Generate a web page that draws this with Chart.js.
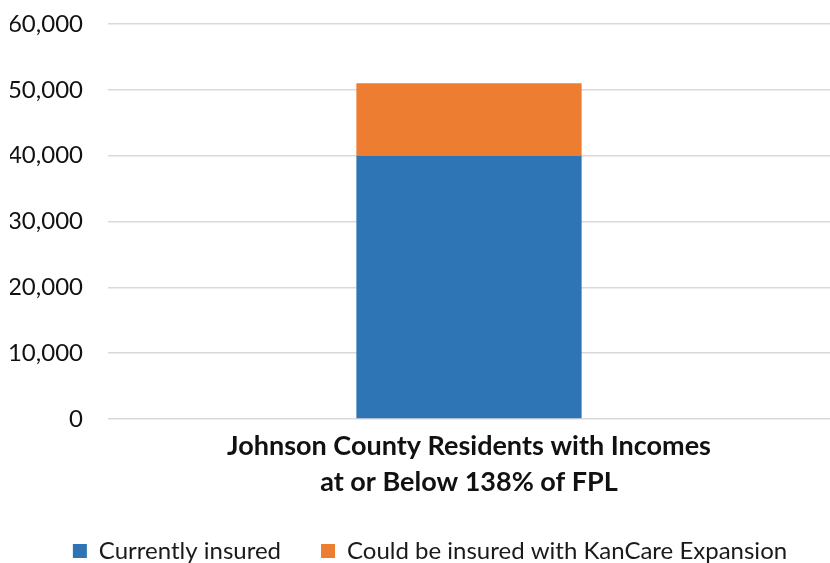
<!DOCTYPE html>
<html>
<head>
<meta charset="utf-8">
<script src="https://cdn.jsdelivr.net/npm/chart.js@4"></script>
<style>
  html, body { margin: 0; padding: 0; background: #ffffff; }
  #wrap { width: 830px; height: 563px; }
</style>
</head>
<body>
<div id="wrap"><canvas id="c" width="830" height="563"></canvas></div>
<script>
// Category label (shown in two lines under the bar)
const categories = [["Johnson County Residents with Incomes", "at or Below 138% of FPL"]];
// Stacked series
const currentlyInsured = [40000];
const couldBeInsured = [11000];
const seriesNames = ["Currently insured", "Could be insured with KanCare Expansion"];
// Y axis range
const yMin = 0, yMax = 60000, yStep = 10000;

const FONT = "Lato, 'Liberation Sans', sans-serif";

// Nudge the legend row a little to the right of the canvas centre
const legendShift = {
  id: 'legendShift',
  afterLayout(chart) {
    const lg = chart.legend;
    if (lg) { lg.left += 10; lg.right += 10; }
  }
};

new Chart(document.getElementById('c'), {
  type: 'bar',
  data: {
    labels: categories,
    datasets: [
      { label: seriesNames[0], data: currentlyInsured, backgroundColor: '#2E75B6' },
      { label: seriesNames[1], data: couldBeInsured, backgroundColor: '#ED7D31' }
    ]
  },
  plugins: [legendShift],
  options: {
    responsive: false,
    animation: false,
    devicePixelRatio: 1,
    layout: { padding: { top: 0, right: 0, bottom: -10, left: 10 } },
    datasets: { bar: { categoryPercentage: 1, barPercentage: 0.312 } },
    plugins: {
      tooltip: { enabled: false },
      legend: {
        position: 'bottom',
        labels: {
          color: '#1a1a1a',
          font: { family: FONT, size: 24 },
          boxWidth: 14,
          boxHeight: 14,
          padding: 40
        }
      }
    },
    scales: {
      x: {
        stacked: true,
        grid: { display: false },
        border: { display: false },
        ticks: {
          color: '#111111',
          font: { family: FONT, size: 27, weight: 'bold', lineHeight: 1.31 },
          padding: 2
        },
        afterFit(scale) { scale.height = 80; }
      },
      y: {
        stacked: true,
        min: yMin,
        max: yMax,
        grid: { color: '#d9d9d9', lineWidth: 1.5, drawTicks: false },
        border: { display: false },
        ticks: {
          stepSize: yStep,
          color: '#111111',
          font: { family: FONT, size: 24 },
          padding: 25,
          callback: v => v.toLocaleString('en-US')
        },
        afterFit(scale) {
          scale.width = 98;
          scale.paddingTop = 24;
          scale.paddingBottom = 0;
        }
      }
    }
  }
});
</script>
</body>
</html>
